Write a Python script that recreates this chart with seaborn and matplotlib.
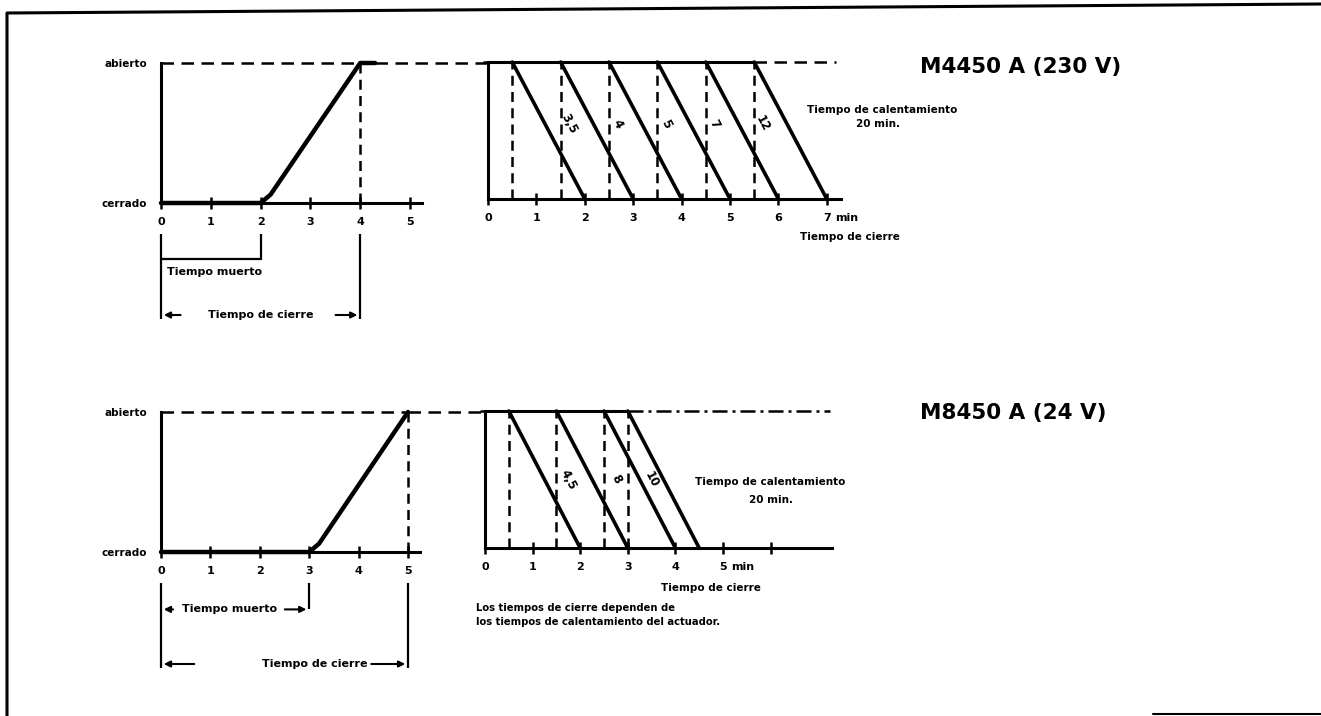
import numpy as np
import pandas as pd
import matplotlib
matplotlib.use('Agg')
import matplotlib.pyplot as plt
import seaborn as sns


# valve stroke (0 = cerrado, 1 = abierto) against time in minutes
t_230 = [0, 2.0, 2.2, 4.0, 4.3]
pos_230 = [0, 0, 0.06, 1, 1]
dead_230 = 2.0
close_230 = 4.0

t_24 = [0, 3.0, 3.2, 5.0]
pos_24 = [0, 0, 0.06, 1]
dead_24 = 3.0
close_24 = 5.0

# closing lines: start at abierto, end at cerrado (minutes)
start_230 = [0.5, 1.5, 2.5, 3.5, 4.5, 5.5]
end_230 = [2, 3, 4, 5, 6, 7]
heat_230 = ['3,5', '4', '5', '7', '12']

start_24 = [0.5, 1.5, 2.5, 3.0]
end_24 = [2, 3, 4, 4.5]
heat_24 = ['4,5', '8', '10']

ticks_left = [0, 1, 2, 3, 4, 5]
ticks_230 = [0, 1, 2, 3, 4, 5, 6, 7]
ticklabels_230 = ['0', '1', '2', '3', '4', '5', '6', '7']
ticks_24 = [0, 1, 2, 3, 4, 5, 6]
ticklabels_24 = ['0', '1', '2', '3', '4', '5', '']

W, H = 1321, 716
sns.set_theme(style='white')
plt.rcParams['font.family'] = ['DejaVu Sans']
plt.rcParams['font.weight'] = 'bold'
plt.rcParams['text.color'] = 'black'
plt.rcParams['xtick.color'] = 'black'
plt.rcParams['ytick.color'] = 'black'
fig = plt.figure(figsize=(W / 100, H / 100), dpi=100)

SMALL = 8


def place(x0, xu, y0, yu, xlim, ylim):
    # axes rectangle from pixel anchor of data origin and pixel per unit
    left = x0 + xlim[0] * xu
    right = x0 + xlim[1] * xu
    bottom = y0 - ylim[0] * yu
    top = y0 - ylim[1] * yu
    ax = fig.add_axes([left / W, 1 - bottom / H, (right - left) / W, (bottom - top) / H])
    ax.set_xlim(*xlim)
    ax.set_ylim(*ylim)
    ax.set_facecolor('none')
    for s in ['top', 'right']:
        ax.spines[s].set_visible(False)
    ax.spines['bottom'].set_position(('data', 0))
    ax.spines['left'].set_position(('data', 0))
    ax.spines['left'].set_bounds(0, 1)
    for s in ['left', 'bottom']:
        ax.spines[s].set_linewidth(2.2)
        ax.spines[s].set_color('black')
    ax.tick_params(axis='x', bottom=True, direction='inout', length=8, width=1.8, pad=6,
                   labelsize=SMALL, colors='black')
    return ax


def stroke_panel(ax, t, pos, dead, close, xmax, left_arrow, right_arrow, text_x, dead_style):
    sns.lineplot(x=t, y=pos, ax=ax, color='black', lw=3.2, sort=False, estimator=None)
    ax.spines['bottom'].set_bounds(0, xmax)
    ax.set_xticks(ticks_left)
    ax.set_xticklabels([str(v) for v in ticks_left])
    ax.set_yticks([0, 1])
    ax.set_yticklabels(['cerrado', 'abierto'], fontsize=7.5)
    ax.tick_params(axis='y', length=0, pad=10)
    flat_end = t[-1] if pos[-2] == 1 else close
    # dashed abierto reference
    ax.hlines(1, 0, close, colors='black', lw=1.8, linestyles=(0, (5, 3)))
    ax.plot([flat_end, 6.56], [1, 1], color='black', lw=1.8, ls=(0, (5, 3)), clip_on=False)
    ax.vlines(close, 0, 1, colors='black', lw=1.8, linestyles=(0, (4, 2.5)))
    # brackets below the axis
    ax.vlines([0, close], -0.83, -0.22, colors='black', lw=1.6)
    ax.vlines(dead, -0.41, -0.22, colors='black', lw=1.6)
    arrow = dict(arrowstyle='-|>', lw=1.5, color='black', mutation_scale=9)
    if dead_style == 'line':
        ax.hlines(-0.40, 0, dead, colors='black', lw=1.6)
        ax.text(0.12, -0.49, 'Tiempo muerto', fontsize=SMALL, ha='left', va='center')
    else:
        ax.annotate('', xy=(0, -0.41), xytext=(0.3, -0.41), arrowprops=arrow)
        ax.annotate('', xy=(dead, -0.41), xytext=(dead - 0.55, -0.41), arrowprops=arrow)
        ax.text(dead * 0.46, -0.41, 'Tiempo muerto', fontsize=SMALL, ha='center', va='center')
    ax.annotate('', xy=(0, -0.80), xytext=(left_arrow, -0.80), arrowprops=arrow)
    ax.annotate('', xy=(close, -0.80), xytext=(right_arrow, -0.80), arrowprops=arrow)
    ax.text(text_x, -0.80, 'Tiempo de cierre', fontsize=SMALL, ha='center', va='center')


def family_panel(ax, starts, ends, heats, ticks, ticklabels, xmax, dash_end, top_ls, frac):
    df = pd.DataFrame({
        'line': np.repeat(np.arange(len(starts)), 2),
        't': np.ravel(np.column_stack([starts, ends])),
        'pos': np.tile([1, 0], len(starts)),
    })
    sns.lineplot(data=df, x='t', y='pos', units='line', estimator=None, sort=False,
                 ax=ax, color='black', lw=2.6)
    ax.spines['bottom'].set_bounds(0, xmax)
    ax.set_xticks(ticks)
    ax.set_xticklabels(ticklabels)
    ax.set_yticks([])
    ax.set_xlabel('')
    ax.set_ylabel('')
    ax.hlines(1, 0, max(starts), colors='black', lw=2.2)
    ax.plot([-0.1, 0], [1, 1], color='black', lw=1.8, ls=top_ls, clip_on=False)
    ax.plot([max(starts), dash_end], [1, 1], color='black', lw=1.8, ls=top_ls)
    ax.vlines(starts, 0, 1, colors='black', lw=1.8, linestyles=(0, (4, 2.5)))
    # heating-time labels between neighbouring lines
    dx = (ends[0] - starts[0])
    p = ax.transData.transform([[0, 0], [dx, -1]])
    ang = np.degrees(np.arctan2(p[1, 1] - p[0, 1], p[1, 0] - p[0, 0]))
    for i, lab in enumerate(heats):
        s = (starts[i] + starts[i + 1]) / 2
        e = (ends[i] + ends[i + 1]) / 2
        ax.text(s + (e - s) * (1 - frac), frac, lab, rotation=ang, rotation_mode='anchor',
                ha='center', va='center', fontsize=8.5)


# top row: M4450 A (230 V)
ax1 = place(161, 49.8, 203, 140, (-0.3, 6.6), (-0.95, 1.1))
stroke_panel(ax1, t_230, pos_230, dead_230, close_230, 5.25, 0.45, 3.45, 2.0, 'line')

ax2 = place(488, 48.4, 199, 137, (-0.1, 7.6), (-0.35, 1.1))
family_panel(ax2, start_230, end_230, heat_230, ticks_230, ticklabels_230, 7.3, 7.2,
             (0, (5, 3)), 0.55)
ax2.text(7.18, -0.14, 'min', fontsize=SMALL, ha='left', va='center')
ax2.text(6.45, -0.28, 'Tiempo de cierre', fontsize=7.5, ha='left', va='center')
ax2.text(6.6, 0.65, 'Tiempo de calentamiento', fontsize=7.5, ha='left', va='center')
ax2.text(8.05, 0.545, '20 min.', fontsize=7.5, ha='center', va='center')

# bottom row: M8450 A (24 V)
ax3 = place(161, 49.4, 552, 140, (-0.3, 6.6), (-0.95, 1.1))
stroke_panel(ax3, t_24, pos_24, dead_24, close_24, 5.25, 0.73, 4.2, 3.12, 'arrow')

ax4 = place(485, 47.6, 548, 137, (-0.1, 7.6), (-0.35, 1.1))
family_panel(ax4, start_24, end_24, heat_24, ticks_24, ticklabels_24, 7.3, 7.25,
             (0, (6, 2, 1.2, 2)), 0.5)
ax4.text(5.18, -0.14, 'min', fontsize=SMALL, ha='left', va='center')
ax4.text(4.75, -0.29, 'Tiempo de cierre', fontsize=7.5, ha='center', va='center')
ax4.text(6.0, 0.48, 'Tiempo de calentamiento', fontsize=7.5, ha='center', va='center')
ax4.text(6.0, 0.35, '20 min.', fontsize=7.5, ha='center', va='center')
ax4.text(-0.18, -0.49, 'Los tiempos de cierre dependen de\nlos tiempos de calentamiento del actuador.',
         fontsize=7.2, ha='left', va='center', linespacing=1.5)

# model titles
fig.text(920 / W, 1 - 67 / H, 'M4450 A (230 V)', fontsize=15.5, fontweight='bold',
         ha='left', va='center')
fig.text(920 / W, 1 - 413 / H, 'M8450 A (24 V)', fontsize=15.5, fontweight='bold',
         ha='left', va='center')

# page frame
frame = fig.add_axes([0, 0, 1, 1], zorder=-1)
frame.set_xlim(0, W)
frame.set_ylim(H, 0)
frame.axis('off')
frame.plot([7, 7, W], [H, 13, 4], color='black', lw=2.2)
frame.plot([1153, W], [714, 714], color='black', lw=1.5)

fig.savefig('out.png', dpi=100)
